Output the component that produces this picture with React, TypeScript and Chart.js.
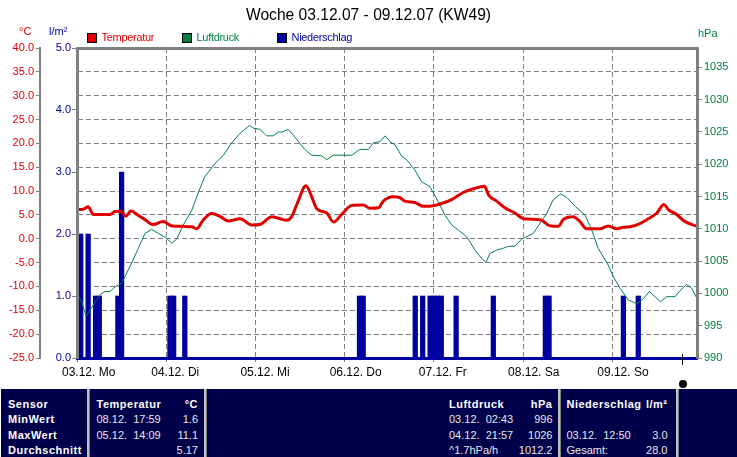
import React, { useEffect, useRef } from 'react';
import { Chart, registerables } from 'chart.js';

Chart.register(...registerables);

const FONT = '"Liberation Sans", Arial, sans-serif';

// ---------- data ----------
const dayLabels = ['03.12. Mo', '04.12. Di', '05.12. Mi', '06.12. Do', '07.12. Fr', '08.12. Sa', '09.12. So'];

// hours since 03.12. 00:00
const tempHours = [0, 1.7, 3.0, 4.4, 8.9, 10.2, 12.0, 13.1, 14.5, 16.5, 18.3, 20.4, 23.2, 25.5, 28.6, 30.9, 32.2, 34.0, 36.2, 38.5, 40.7, 43.9, 47.0, 49.2, 52.4, 56.4, 57.8, 59.3, 61.6, 63.1, 64.5, 67.2, 69.0, 71.2, 73.9, 77.0, 78.8, 81.1, 82.4, 85.1, 86.9, 88.2, 90.9, 93.2, 94.5, 97.7, 100.8, 103.9, 107.1, 109.6, 110.8, 112.9, 115.1, 117.8, 120.1, 124.6, 127.3, 129.5, 130.8, 133.5, 135.3, 137.1, 140.7, 142.9, 145.2, 147.0, 148.8, 151.0, 153.3, 156.0, 157.9, 159.1, 161.3, 163.4, 166.8];
const tempValues = [6.1, 6.2, 6.7, 5.1, 5.1, 5.7, 5.7, 4.7, 5.8, 4.9, 4.0, 3.0, 3.6, 2.7, 2.6, 2.5, 2.1, 4.0, 5.3, 4.7, 3.7, 4.2, 2.9, 3.0, 4.6, 3.9, 4.7, 7.5, 11.1, 8.9, 6.3, 5.4, 3.5, 5.1, 7.0, 7.1, 6.4, 6.5, 7.9, 8.8, 8.6, 7.9, 7.6, 6.8, 6.8, 7.3, 8.2, 9.7, 10.6, 11.0, 9.1, 7.9, 6.5, 5.4, 4.2, 4.0, 2.7, 2.6, 4.0, 4.6, 3.6, 2.1, 2.1, 2.7, 2.1, 2.4, 2.5, 3.0, 4.0, 5.4, 7.2, 6.1, 5.1, 3.7, 2.6];

const pressHours = [0, 1.3, 2.4, 3.3, 4.8, 6.4, 7.5, 8.9, 10.2, 12.0, 12.9, 14.7, 16.5, 18.3, 20.1, 21.9, 23.7, 25.5, 26.8, 28.6, 30.9, 33.1, 34.4, 37.1, 39.4, 41.6, 43.9, 46.4, 47.4, 49.2, 51.0, 52.8, 54.2, 55.3, 56.8, 58.2, 60.0, 61.3, 63.1, 65.8, 67.2, 69.0, 73.9, 76.1, 78.4, 79.7, 81.5, 82.9, 84.2, 85.6, 87.4, 88.7, 90.9, 92.7, 95.0, 97.2, 99.0, 100.8, 102.6, 104.8, 107.1, 108.4, 110.0, 111.1, 112.9, 114.7, 116.0, 117.8, 119.6, 122.8, 124.6, 126.4, 128.1, 130.1, 131.7, 134.0, 136.7, 138.5, 140.2, 142.9, 144.3, 146.1, 148.3, 150.6, 152.4, 154.0, 155.5, 157.0, 158.6, 160.9, 162.2, 164.0, 165.4, 166.8];
const pressValues = [999.9, 998.7, 996.5, 997.2, 998.6, 999.9, 1000.3, 1000.3, 1001.0, 1001.6, 1002.6, 1004.7, 1007.0, 1009.3, 1009.9, 1009.3, 1008.7, 1007.8, 1008.4, 1010.6, 1012.9, 1016.3, 1018.1, 1020.1, 1021.4, 1023.3, 1024.8, 1026.0, 1025.6, 1025.4, 1024.4, 1024.4, 1025.0, 1025.0, 1025.4, 1024.5, 1023.2, 1022.3, 1021.4, 1021.3, 1020.7, 1021.4, 1021.4, 1022.3, 1022.3, 1023.3, 1023.5, 1024.4, 1023.5, 1023.0, 1021.2, 1020.7, 1019.1, 1017.3, 1016.5, 1014.2, 1012.1, 1010.6, 1009.8, 1008.8, 1006.7, 1005.7, 1004.8, 1006.2, 1006.7, 1007.0, 1007.3, 1007.3, 1008.4, 1009.3, 1010.9, 1012.4, 1014.5, 1015.4, 1014.9, 1013.5, 1012.1, 1009.8, 1007.0, 1004.4, 1002.6, 1000.8, 999.0, 998.4, 999.2, 1000.3, 999.5, 998.7, 999.5, 999.5, 1000.4, 1001.4, 1000.8, 999.2];

const rainHours = [0, 1, 3, 5, 6, 11, 12, 25, 26, 29, 76, 77, 91, 93, 95, 96, 97, 98, 102, 112, 126, 127, 147, 151];
const rainValues = [1, 2, 2, 1, 1, 1, 3, 1, 1, 1, 1, 1, 1, 1, 1, 1, 1, 1, 1, 1, 1, 1, 1, 1];

const X_MAX = 166.8;

const legendItems = [
  { label: 'Temperatur', color: '#e00000', text: '#e00000' },
  { label: 'Luftdruck', color: '#008040', text: '#008040' },
  { label: 'Niederschlag', color: '#0000a0', text: '#0000a0' },
];

const rowLabels = ['Sensor', 'MinWert', 'MaxWert', 'Durchschnitt'];
const tempCol = ['Temperatur', '08.12.  17:59', '05.12.  14:09', ''];
const tempColVal = ['°C', '1.6', '11.1', '5.17'];
const pressCol = ['Luftdruck', '03.12.  02:43', '04.12.  21:57', '^1.7hPa/h'];
const pressColVal = ['hPa', '996', '1026', '1012.2'];
const rainCol = ['Niederschlag', '', '03.12.  12:50', 'Gesamt:'];
const rainColVal = ['l/m²', '', '3.0', '28.0'];

const GRAY = '#808080';
const RED = '#e00000';
const GREEN = '#008040';
const BLUE = '#0000a0';
const NAVY = '#00004a';

const rowTops = [395.5, 411.1, 426.7, 442.3];

function Cell(props: { text: string; left?: number; right?: number; top: number; bold: boolean }) {
  const { text, left, right, top, bold } = props;
  const style: React.CSSProperties = {
    position: 'absolute',
    top,
    height: 16,
    lineHeight: '16px',
    fontSize: 11,
    fontWeight: bold ? 'bold' : 'normal',
    letterSpacing: bold ? '0.5px' : '0px',
    color: bold ? '#ffffff' : '#e8e8e8',
    whiteSpace: 'pre',
  };
  if (left !== undefined) style.left = left;
  if (right !== undefined) {
    style.right = 737 - right;
    style.textAlign = 'right';
  }
  return <div style={style}>{text}</div>;
}

export default function App() {
  const ref = useRef<HTMLCanvasElement>(null);

  useEffect(() => {
    const canvas = ref.current;
    if (!canvas) return;
    const chart = new Chart(canvas, {
      data: {
        datasets: [
          {
            type: 'line',
            label: 'Temperatur',
            data: tempHours.map((h, i) => ({ x: h, y: tempValues[i] })),
            xAxisID: 'x',
            yAxisID: 'yT',
            borderColor: RED,
            borderWidth: 3,
            pointRadius: 0,
            cubicInterpolationMode: 'monotone',
            fill: false,
          },
          {
            type: 'line',
            label: 'Luftdruck',
            data: pressHours.map((h, i) => ({ x: h, y: pressValues[i] })),
            xAxisID: 'x',
            yAxisID: 'yH',
            borderColor: GREEN,
            borderWidth: 1,
            pointRadius: 0,
            tension: 0,
            fill: false,
          },
          {
            type: 'bar',
            label: 'Niederschlag',
            data: rainHours.map((h, i) => ({ x: h, y: rainValues[i] })),
            xAxisID: 'x',
            yAxisID: 'yP',
            backgroundColor: BLUE,
            borderWidth: 0,
            barThickness: 4.6,
            clip: 0,
          } as any,
        ],
      },
      options: {
        responsive: false,
        maintainAspectRatio: false,
        animation: false,
        events: [],
        layout: { padding: { top: 48, left: 0, right: 0, bottom: 0 } },
        plugins: {
          legend: { display: false },
          title: { display: false },
          tooltip: { enabled: false },
        },
        scales: {
          x: {
            type: 'linear',
            position: 'bottom',
            offset: false,
            min: 0,
            max: X_MAX,
            ticks: {
              stepSize: 24,
              includeBounds: false,
              autoSkip: false,
              maxRotation: 0,
              minRotation: 0,
              align: 'start',
              labelOffset: -15,
              padding: 3,
              color: '#000000',
              font: { family: FONT, size: 12 },
              callback: (v: any) => dayLabels[Math.round(Number(v) / 24)] ?? '',
            },
            grid: { offset: false, color: GRAY, lineWidth: 1, tickLength: 4, drawOnChartArea: true },
            border: { dash: [5, 3], color: BLUE, width: 3 },
            afterFit: (s: any) => { s.height = 31; },
          },
          xTop: {
            type: 'linear',
            position: 'top',
            offset: false,
            min: 0,
            max: 1,
            ticks: { display: false },
            grid: { display: false, drawTicks: false, offset: false },
            border: { display: true, color: GRAY, width: 3, z: 1 },
            afterFit: (s: any) => { s.height = 0; },
          },
          yT: {
            type: 'linear',
            position: 'left',
            weight: 2,
            min: -25,
            max: 40,
            ticks: {
              stepSize: 5,
              includeBounds: false,
              color: RED,
              padding: 2,
              font: { family: FONT, size: 11 },
              callback: (v: any) => Number(v).toFixed(1),
            },
            grid: { color: GRAY, lineWidth: 1, tickLength: 4, drawOnChartArea: true },
            border: { dash: [5, 3], color: GRAY, width: 2 },
            afterFit: (s: any) => { s.width = 40; },
          },
          yP: {
            type: 'linear',
            position: 'left',
            weight: 1,
            min: 0,
            max: 5,
            ticks: {
              stepSize: 1,
              includeBounds: false,
              color: BLUE,
              padding: 1,
              font: { family: FONT, size: 11 },
              callback: (v: any) => Number(v).toFixed(1),
            },
            grid: { color: GRAY, tickLength: 5, drawOnChartArea: false },
            border: { color: GRAY, width: 3, z: 1 },
            afterFit: (s: any) => { s.width = 37; },
          },
          yH: {
            type: 'linear',
            position: 'right',
            min: 990,
            max: 1038,
            ticks: {
              stepSize: 5,
              includeBounds: false,
              color: GREEN,
              padding: 2,
              font: { family: FONT, size: 11 },
              callback: (v: any) => String(v),
            },
            grid: { color: GRAY, tickLength: 5, drawOnChartArea: false },
            border: { color: GRAY, width: 3, z: 1 },
            afterFit: (s: any) => { s.width = 40; },
          },
        },
      } as any,
    });
    return () => chart.destroy();
  }, []);

  const dividers = [87, 203.5, 557.5, 675.5];

  return (
    <div
      style={{
        position: 'absolute',
        left: 0,
        top: 0,
        width: 737,
        height: 457,
        background: '#ffffff',
        fontFamily: FONT,
        overflow: 'hidden',
      }}
    >
      <canvas
        ref={ref}
        width={737}
        height={389}
        style={{ position: 'absolute', left: 0, top: 0, width: 737, height: 389, display: 'block' }}
      />
      {/* title */}
      <div
        style={{
          position: 'absolute',
          left: 0,
          top: 5,
          width: 737,
          height: 20,
          lineHeight: '20px',
          fontSize: 15.6,
          textAlign: 'center',
          color: '#000',
          whiteSpace: 'pre',
        }}
      >
        Woche 03.12.07 - 09.12.07 (KW49)
      </div>
      {/* unit labels */}
      <div style={{ position: 'absolute', left: 19, top: 24, fontSize: 11, lineHeight: '14px', color: RED }}>°C</div>
      <div style={{ position: 'absolute', left: 49, top: 24, fontSize: 11, lineHeight: '14px', color: BLUE }}>l/m²</div>
      <div style={{ position: 'absolute', left: 698, top: 26, fontSize: 11, lineHeight: '14px', color: GREEN }}>hPa</div>
      {/* legend */}
      {legendItems.map((it, i) => (
        <React.Fragment key={it.label}>
          <div
            style={{
              position: 'absolute',
              left: 87 + i * 95,
              top: 32.5,
              width: 10,
              height: 10,
              boxSizing: 'border-box',
              border: '1px solid #000',
              background: it.color,
            }}
          />
          <div
            style={{
              position: 'absolute',
              left: 101.5 + i * 95,
              top: 30,
              fontSize: 11,
              lineHeight: '14px',
              letterSpacing: '-0.3px',
              color: it.text,
              whiteSpace: 'pre',
            }}
          >
            {it.label}
          </div>
        </React.Fragment>
      ))}
      {/* now marker */}
      <div style={{ position: 'absolute', left: 682, top: 354, width: 1, height: 11, background: '#000' }} />
      <div
        style={{
          position: 'absolute',
          left: 678.5,
          top: 379.5,
          width: 8,
          height: 8,
          borderRadius: '50%',
          background: '#000',
        }}
      />
      {/* summary table */}
      <div style={{ position: 'absolute', left: 1, top: 389, width: 736, height: 68, background: NAVY }} />
      {dividers.map((x) => (
        <div
          key={x}
          style={{
            position: 'absolute',
            left: x,
            top: 389,
            width: 2,
            height: 68,
            background: '#c0c0c0',
            borderRight: '1px solid #808080',
          }}
        />
      ))}
      {rowLabels.map((t, i) => (
        <Cell key={'r' + i} text={t} left={8} top={rowTops[i]} bold={true} />
      ))}
      {tempCol.map((t, i) => (
        <Cell key={'tc' + i} text={t} left={96.5} top={rowTops[i]} bold={i === 0} />
      ))}
      {tempColVal.map((t, i) => (
        <Cell key={'tv' + i} text={t} right={198} top={rowTops[i]} bold={i === 0} />
      ))}
      {pressCol.map((t, i) => (
        <Cell key={'pc' + i} text={t} left={449} top={rowTops[i]} bold={i === 0} />
      ))}
      {pressColVal.map((t, i) => (
        <Cell key={'pv' + i} text={t} right={552.5} top={rowTops[i]} bold={i === 0} />
      ))}
      {rainCol.map((t, i) => (
        <Cell key={'rc' + i} text={t} left={566.5} top={rowTops[i]} bold={i === 0} />
      ))}
      {rainColVal.map((t, i) => (
        <Cell key={'rv' + i} text={t} right={667.5} top={rowTops[i]} bold={i === 0} />
      ))}
    </div>
  );
}
